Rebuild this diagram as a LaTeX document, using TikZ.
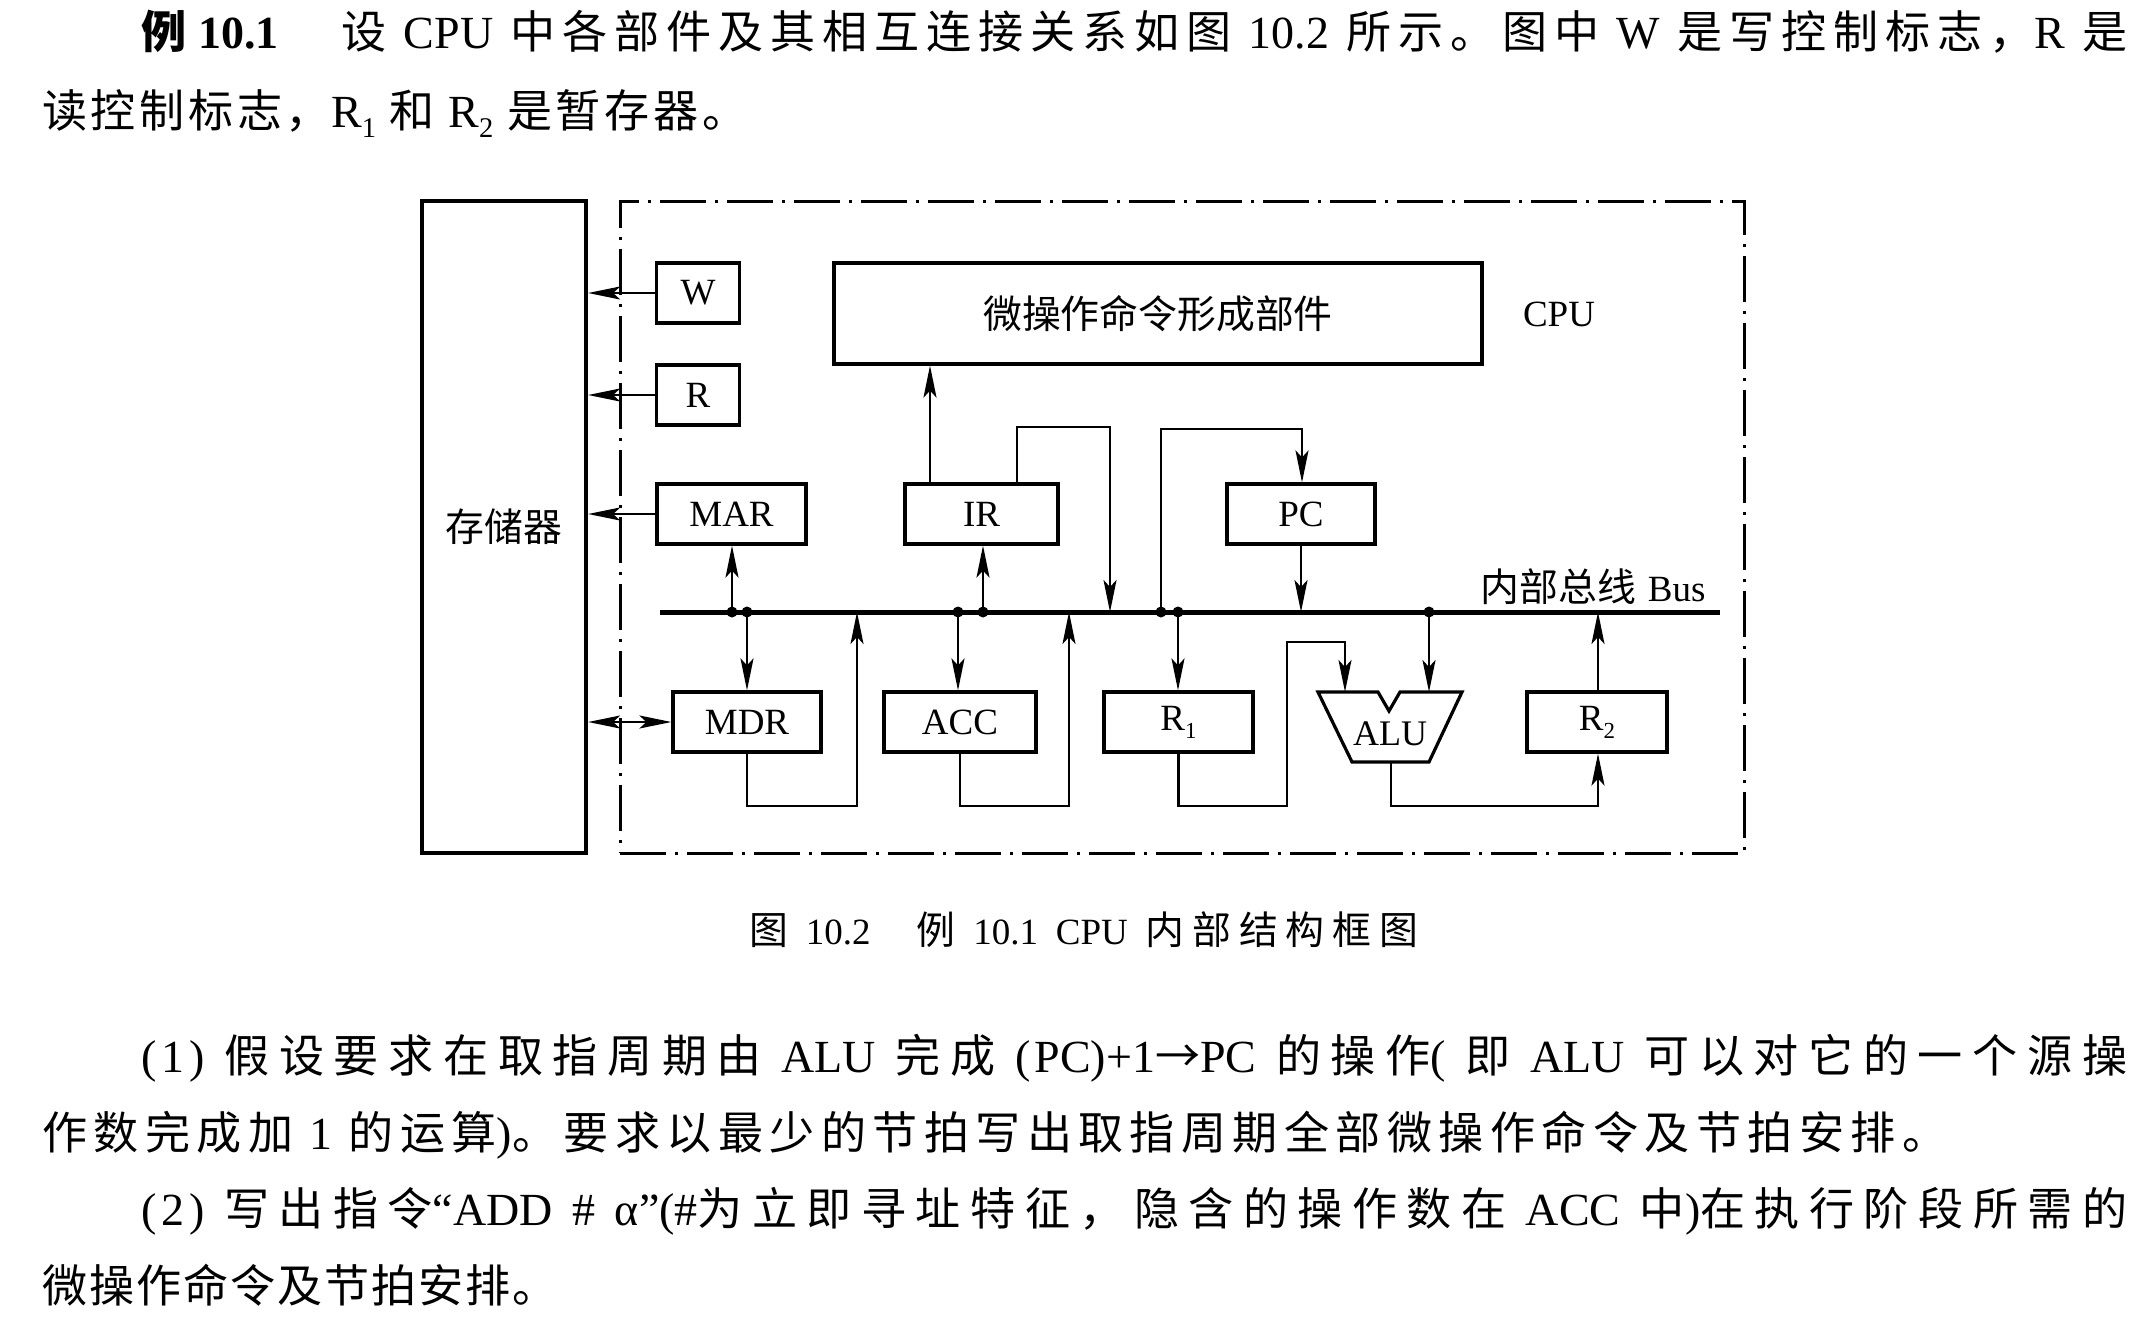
\documentclass[tikz,border=0pt]{standalone}
\usepackage{fontspec}
\usepackage{graphicx}
\setmainfont{Liberation Serif}
\newfontfamily\cjk[Scale=1.05]{Noto Sans CJK SC}
\newfontfamily\cjkt[Scale=0.98]{Noto Sans CJK SC}
\usetikzlibrary{arrows.meta}
\newskip\cjsp
\cjsp=2pt plus 1fil
\let\cjkcur\cjk
\def\Jloop#1#2\Jend{#1\if\relax\detokenize{#2}\relax\else\hskip\cjsp\Jloop#2\Jend\fi}
\newcommand\CJ[1]{{\cjkcur\Jloop#1\Jend}}
\newcommand\Gp{\hskip 12pt plus 1fil\relax}
\newcommand\subx[1]{\raisebox{-0.22em}{\scalebox{0.62}{#1}}}
\newcommand\dgfont{\fontsize{37}{40}\selectfont\setlength{\cjsp}{0pt}}
\newcommand\txtfont{\fontsize{46}{50}\selectfont\let\cjkcur\cjkt}
\newcommand\alufont{\fontsize{36}{40}\selectfont}
\tikzset{
  txt/.style={inner sep=0pt, anchor=base west, font=\txtfont},
  captxt/.style={inner sep=0pt, anchor=base west, font=\fontsize{37}{44}\selectfont},
  lbl/.style={inner sep=0pt, font=\dgfont},
  reg/.style={draw, line width=3.2pt, inner sep=0pt, minimum height=60pt, font=\dgfont},
  conn/.style={line width=2.3pt},
  arr/.style={conn, -{Stealth[length=32pt,width=13pt,inset=7pt]}},
  darr/.style={conn, {Stealth[length=32pt,width=13pt,inset=7pt]}-{Stealth[length=32pt,width=13pt,inset=7pt]}},
  cpubox/.style={draw, line width=3pt, dash pattern=on 46pt off 9pt on 3pt off 9pt, inner sep=0pt},
  jdot/.style={fill=black}
}
\begin{document}
\begin{tikzpicture}[x=1pt,y=-1pt]
\useasboundingbox (0,0) rectangle (2148,1318);
\fill[white] (0,0) rectangle (2148,1318);

% ---------- top text ----------
\node[txt] (l1) at (141,48) {\makebox[1986pt][s]{{\cjkcur\bfseries 例}\hspace{12pt}{\bfseries 10.1}\hspace{58pt plus 1fil}\CJ{设}\Gp CPU\Gp\CJ{中各部件及其相互连接关系如图}\Gp 10.2\Gp\CJ{所示。图中}\Gp W\Gp\CJ{是写控制标志，}R\Gp\CJ{是}}};
\node[txt] (l2) at (42,127) {\makebox[705pt][s]{\CJ{读控制标志，}R\subx{1}\Gp\CJ{和}\Gp R\subx{2}\Gp\CJ{是暂存器。}}};

% ---------- diagram ----------
\node[draw, line width=4.2pt, minimum width=164pt, minimum height=652pt, inner sep=0pt, font=\dgfont] (mem) at (504,527) {\CJ{存储器}};
\node[cpubox, minimum width=1124pt, minimum height=652pt] (cpu) at (1182,527) {};

\node[reg, minimum width=83pt] (w) at (698,293) {W};
\node[reg, minimum width=83pt] (r) at (698,395) {R};
\node[reg, minimum width=149pt] (mar) at (731.5,514) {MAR};
\node[reg, minimum width=648pt, minimum height=101pt] (micro) at (1158,313.5) {\CJ{微操作命令形成部件}};
\node[lbl] (cpulbl) at (1559,314) {CPU};
\node[reg, minimum width=153pt] (ir) at (981.5,514) {IR};
\node[reg, minimum width=148pt] (pc) at (1301,514) {PC};
\node[reg, minimum width=148pt] (mdr) at (747,722) {MDR};
\node[reg, minimum width=152pt] (acc) at (960,722) {ACC};
\node[reg, minimum width=149pt] (ra) at (1178.5,722) {R\subx{1}};
\node[reg, minimum width=140pt] (rb) at (1597,722) {R\subx{2}};

% ALU
\coordinate (alutl) at (1318,692);
\coordinate (alun1) at (1378,692);
\coordinate (alunv) at (1389,711);
\coordinate (alun2) at (1400,692);
\coordinate (alutr) at (1462,692);
\coordinate (alubr) at (1429,762);
\coordinate (alubl) at (1352,762);
\coordinate (alubot) at (1391,762);
\draw[line width=3.2pt, line join=miter] (alutl) -- (alun1) -- (alunv) -- (alun2) -- (alutr) -- (alubr) -- (alubl) -- cycle;
\node[lbl, font=\alufont] (alu) at (1390,734) {ALU};

% bus
\coordinate (busL) at (660,612);
\coordinate (busR) at (1720,612);
\draw[line width=5pt] (busL) -- (busR);
\node[lbl] (buslbl) at (1593,587) {\CJ{内部总线}\Gp Bus};

\coordinate (d1) at (732,612);
\coordinate (d2) at (747,612);
\coordinate (d3) at (958,612);
\coordinate (d4) at (983,612);
\coordinate (d5) at (1161,612);
\coordinate (d6) at (1178,612);
\coordinate (d7) at (1429,612);

% memory connections
\draw[arr] (w.west) -- (w.west -| mem.east);
\draw[arr] (r.west) -- (r.west -| mem.east);
\draw[arr] (mar.west) -- (mar.west -| mem.east);
\draw[darr] (mem.east |- mdr.west) -- (mdr.west);

% bus <-> registers
\draw[arr] (d1) -- (d1 |- mar.south);
\draw[arr] (d2) -- (d2 |- mdr.north);
\coordinate (mdrout) at (857,806);
\draw[arr] (mdr.south) |- (mdrout) -- (mdrout |- d1);
\draw[arr] (d3) -- (d3 |- acc.north);
\coordinate (accout) at (1069,806);
\draw[arr] (acc.south) |- (accout) -- (accout |- d1);
\draw[arr] (d4) -- (d4 |- ir.south);
\coordinate (irup) at (930,484);
\draw[arr] (irup) -- (irup |- micro.south);
\coordinate (irl1) at (1017,484);
\coordinate (irl2) at (1110,427);
\draw[arr] (irl1) |- (irl2) -- (irl2 |- d1);
\coordinate (pcl) at (1302,429);
\draw[arr] (d5) |- (pcl) -- (pcl |- pc.north);
\draw[arr] (pc.south) -- (pc.south |- d1);
\draw[arr] (d6) -- (d6 |- ra.north);
\coordinate (r1a) at (1287,806);
\coordinate (r1b) at (1345,642);
\draw[arr] (ra.south) |- (r1a) |- (r1b) -- (r1b |- alutl);
\draw[arr] (d7) -- (d7 |- alutr);
\coordinate (aluo) at (1598,806);
\draw[arr] (alubot) |- (aluo) -- (aluo |- rb.south);
\draw[arr] (aluo |- rb.north) -- (aluo |- d1);

\foreach \d in {d1,d2,d3,d4,d5,d6,d7} \fill[jdot] (\d) circle (5.5pt);

% caption
\node[captxt] (caption) at (749,944) {\makebox[669pt][s]{\CJ{图}\Gp 10.2\hspace{40pt plus 1fil}\CJ{例}\Gp 10.1\Gp CPU\Gp\CJ{内部结构框图}}};

% ---------- bottom text ----------
\node[txt] (pa) at (141,1072) {\makebox[1986pt][s]{(\hspace{5pt}1\hspace{5pt})\Gp\CJ{假设要求在取指周期由}\Gp ALU\Gp\CJ{完成}\Gp(\hspace{4pt}PC)+1{\cjkcur →}PC\Gp\CJ{的操作}(\Gp\CJ{即}\Gp ALU\Gp\CJ{可以对它的一个源操}}};
\node[txt] (pb) at (42,1149) {\makebox[1905pt][s]{\CJ{作数完成加}\Gp 1\Gp\CJ{的运算})\CJ{。要求以最少的节拍写出取指周期全部微操作命令及节拍安排。}}};
\node[txt] (pc2) at (141,1225) {\makebox[1986pt][s]{(\hspace{5pt}2\hspace{5pt})\Gp\CJ{写出指令}“ADD\Gp\#\Gp α”(\#\CJ{为立即寻址特征，隐含的操作数在}\Gp ACC\Gp\CJ{中})\CJ{在执行阶段所需的}}};
\node[txt] (pd) at (42,1302) {\CJ{微操作命令及节拍安排。}};
\end{tikzpicture}
\end{document}
